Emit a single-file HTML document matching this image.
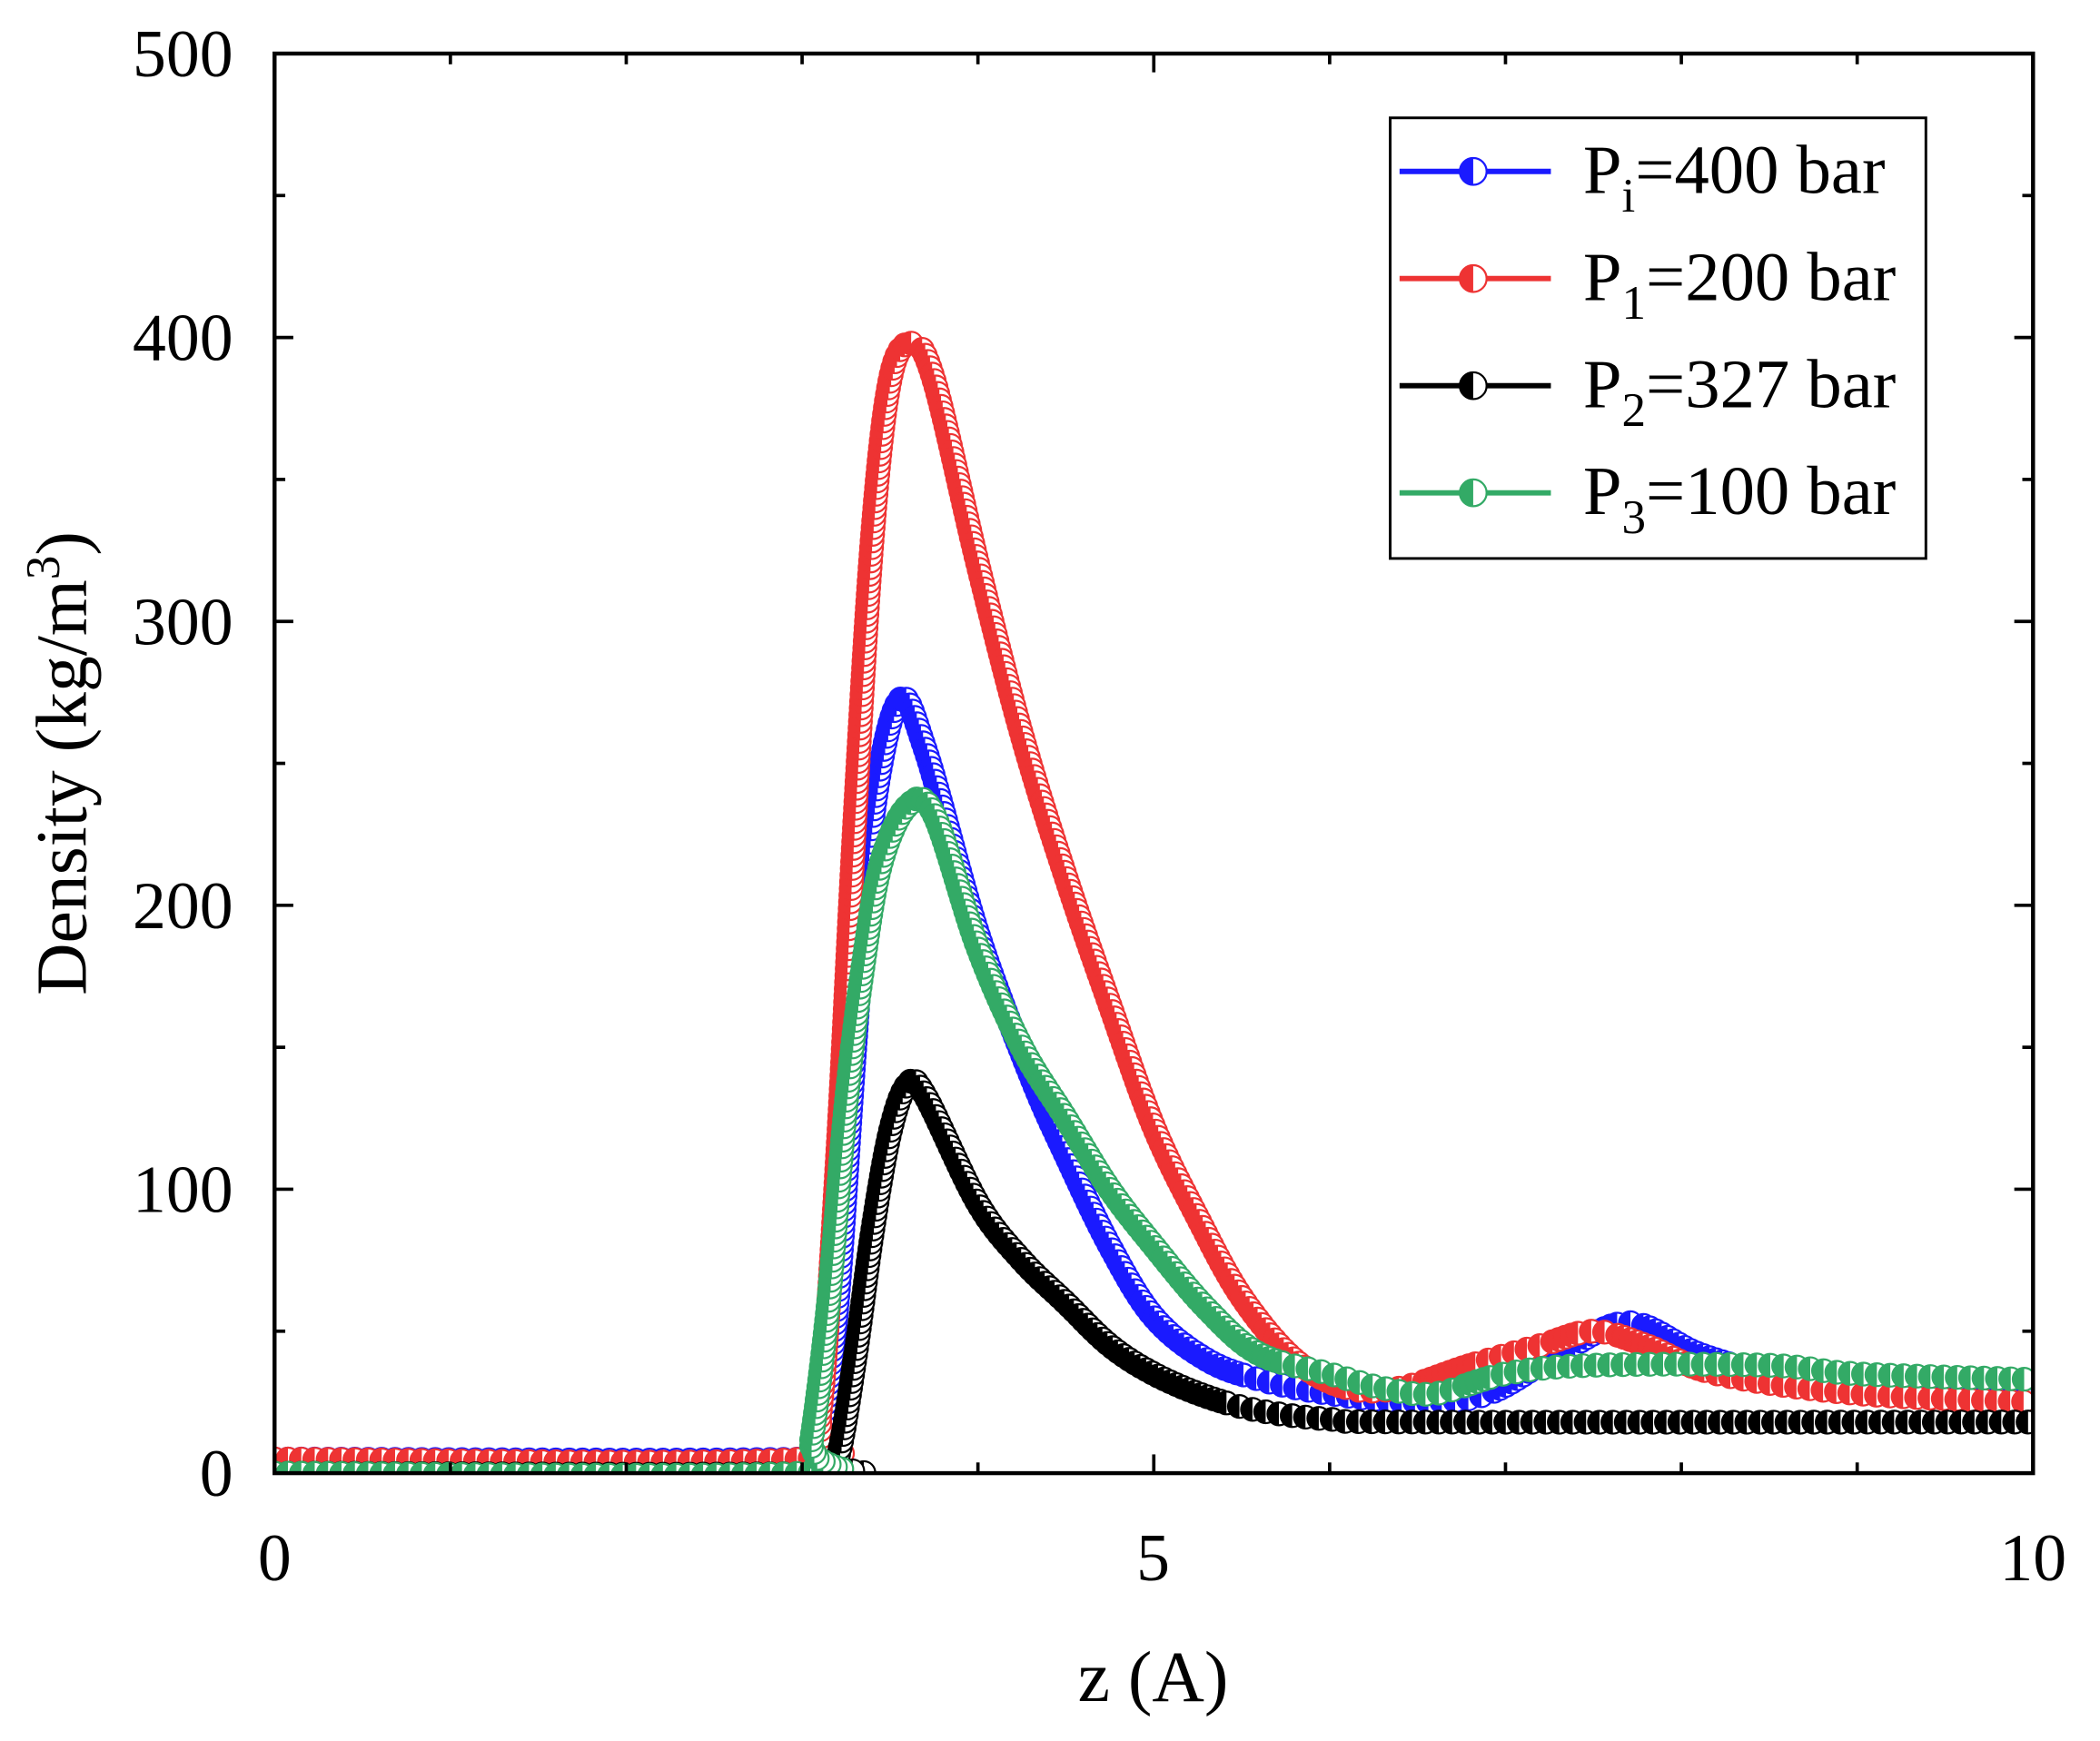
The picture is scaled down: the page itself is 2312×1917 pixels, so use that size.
<!DOCTYPE html>
<html><head><meta charset="utf-8"><style>
html,body{margin:0;padding:0;background:#fff;width:2312px;height:1917px;overflow:hidden}
svg{display:block}
text{font-family:"Liberation Serif",serif;fill:#000}
</style></head><body>
<svg id="s" width="2312" height="1917" viewBox="0 0 1568 1300" preserveAspectRatio="none" xmlns="http://www.w3.org/2000/svg">
<defs><clipPath id="c"><rect x="205" y="30" width="1313" height="1070"/></clipPath></defs>
<g id="series" clip-path="url(#c)"></g>
<rect x="205" y="40" width="1313" height="1060" fill="none" stroke="#000" stroke-width="3"/>
<g id="ticks" stroke="#000" stroke-width="2.5"></g>
<g font-size="50" text-anchor="end">
<text x="174" y="1117">0</text><text x="174" y="905">100</text><text x="174" y="693">200</text><text x="174" y="481">300</text><text x="174" y="269">400</text><text x="174" y="57">500</text>
</g>
<g font-size="50" text-anchor="middle">
<text x="205" y="1180">0</text><text x="861" y="1180">5</text><text x="1518" y="1180">10</text>
</g>
<text x="861" y="1270" font-size="54" text-anchor="middle">z (A)</text>
<text transform="translate(64,570) rotate(-90)" font-size="54" text-anchor="middle">Density (kg/m<tspan font-size="36" dy="-20">3</tspan><tspan dy="20">)</tspan></text>
<rect x="1038" y="88" width="400" height="329" fill="#fff" stroke="#000" stroke-width="2"/>
<g id="leg"></g>
</svg>
<script>
const X=z=>205+z*131.3, Y=v=>1100-v*2.12;
const ns="http://www.w3.org/2000/svg";
function el(t,a,p){const e=document.createElementNS(ns,t);for(const k in a)e.setAttribute(k,a[k]);p.appendChild(e);return e;}
const tk=document.getElementById('ticks');
for(let i=0;i<=10;i++){const x=X(i),L=i%5==0?14:8;el('line',{x1:x,y1:1100,x2:x,y2:1100-L},tk);el('line',{x1:x,y1:40,x2:x,y2:40+L},tk);}
for(let v=0;v<=500;v+=50){const y=Y(v),L=v%100==0?14:8;el('line',{x1:205,y1:y,x2:205+L,y2:y},tk);el('line',{x1:1518,y1:y,x2:1518-L,y2:y},tk);}
const S=[
{c:'#1a1aff',p:[[0,5],[3.0,5],[3.1,10],[3.2,60],[3.3,150],[3.4,230],[3.55,272],[3.7,255],[4.0,190],[4.3,140],[4.5,112],[4.75,80],[5,55],[5.3,40],[5.6,33],[6,28],[6.5,25],[6.9,28],[7.3,42],[7.7,53],[8.1,42],[8.5,35],[9,30],[10,28]]},
{c:'#ee3333',p:[[0,5],[3.0,5],[3.1,20],[3.2,110],[3.3,230],[3.4,330],[3.5,385],[3.62,398],[3.75,385],[4.0,320],[4.25,260],[4.5,210],[4.75,165],[5,122],[5.25,90],[5.5,62],[5.8,40],[6.1,30],[6.4,30],[6.8,38],[7.2,45],[7.5,50],[7.8,45],[8.2,35],[9,28],[10,25]]},
{c:'#000000',p:[[0,0],[3.1,0],[3.2,5],[3.3,40],[3.4,85],[3.5,120],[3.6,137],[3.7,133],[4.0,95],[4.25,75],[4.5,60],[4.75,45],[5,35],[5.3,27],[5.6,22],[6,19],[6.5,18],[10,18]]},
{c:'#33aa66',p:[[0,0],[3.0,0],[3.05,10],[3.15,60],[3.25,130],[3.35,180],[3.45,215],[3.6,235],[3.75,232],[4.0,185],[4.25,150],[4.5,125],[4.75,100],[5,80],[5.3,58],[5.6,42],[6,35],[6.3,30],[6.6,28],[7,35],[7.5,38],[8.5,38],[9,35],[10,33]]}
];
function smooth(p){const out=[];for(let i=0;i<p.length-1;i++){const p0=p[Math.max(0,i-1)],p1=p[i],p2=p[i+1],p3=p[Math.min(p.length-1,i+2)];
 const n=Math.max(2,Math.ceil((p2[0]-p1[0])/0.01));
 for(let k=0;k<n;k++){const t=k/n,t2=t*t,t3=t2*t;
  const f=(a,b,c,d)=>0.5*(2*b+(-a+c)*t+(2*a-5*b+4*c-d)*t2+(-a+3*b-3*c+d)*t3);
  out.push([f(p0[0],p1[0],p2[0],p3[0]),f(p0[1],p1[1],p2[1],p3[1])]);}}
 out.push(p[p.length-1]);return out;}
const g=document.getElementById('series');
function marker(x,y,c,r,p){el('circle',{cx:x,cy:y,r:r,fill:'#fff',stroke:c,'stroke-width':1.5},p);
el('path',{d:`M${x},${y-r}A${r},${r} 0 0 0 ${x},${y+r}Z`,fill:c},p);}
for(const s of S){
 const pts=smooth(s.p).map(q=>[X(q[0]),Y(q[1])]);
 el('polyline',{points:pts.map(q=>q.join(',')).join(' '),fill:'none',stroke:s.c,'stroke-width':4},g);
 let acc=0;
 for(let i=1;i<pts.length;i++){const [x0,y0]=pts[i-1],[x1,y1]=pts[i];const d=Math.hypot(x1-x0,y1-y0);
  const step=Math.abs(y1-y0)<0.3*Math.abs(x1-x0)?10:5;let t=acc;
  while(t<d){marker(x0+(x1-x0)*t/d,y0+(y1-y0)*t/d,s.c,8.5,g);t+=step;}
  acc=t-d;}
}
const lg=document.getElementById('leg');
const labs=[['i','400'],['1','200'],['2','327'],['3','100']];
labs.forEach((l,i)=>{const y=128+i*80,c=S[i].c;
 el('line',{x1:1045,y1:y,x2:1158,y2:y,stroke:c,'stroke-width':4},lg);
 marker(1100,y,c,10,lg);
 const t=el('text',{x:1182,y:y+16,'font-size':52},lg);
 t.innerHTML=`P<tspan font-size="36" dy="14">${l[0]}</tspan><tspan dy="-14">=${l[1]} bar</tspan>`;
});
</script>
</body></html>
